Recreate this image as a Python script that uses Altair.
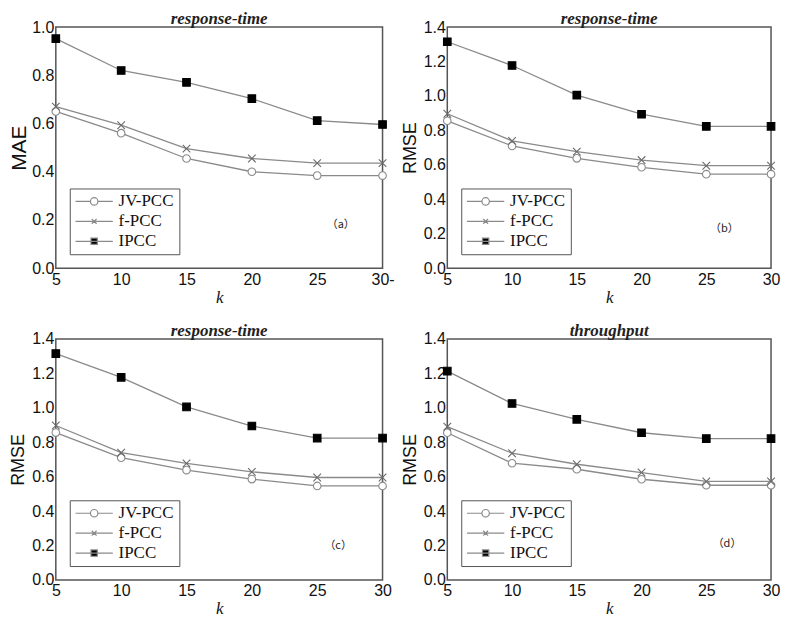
import altair as alt
import pandas as pd

k_values = [5, 10, 15, 20, 25, 30]
series_names = ["JV-PCC", "f-PCC", "IPCC"]

a_jv = [0.65, 0.56, 0.455, 0.40, 0.384, 0.384]
a_f = [0.67, 0.593, 0.496, 0.455, 0.436, 0.436]
a_ip = [0.952, 0.82, 0.771, 0.703, 0.612, 0.596]

b_jv = [0.856, 0.71, 0.638, 0.586, 0.546, 0.546]
b_f = [0.897, 0.739, 0.677, 0.628, 0.595, 0.595]
b_ip = [1.315, 1.177, 1.005, 0.894, 0.824, 0.824]

c_jv = [0.856, 0.71, 0.638, 0.586, 0.546, 0.546]
c_f = [0.897, 0.739, 0.677, 0.628, 0.595, 0.595]
c_ip = [1.315, 1.177, 1.005, 0.894, 0.824, 0.824]

d_jv = [0.855, 0.678, 0.643, 0.585, 0.55, 0.55]
d_f = [0.89, 0.736, 0.672, 0.624, 0.572, 0.572]
d_ip = [1.213, 1.025, 0.933, 0.855, 0.821, 0.821]

panel_titles = ["response-time", "response-time", "response-time", "throughput"]
y_titles = ["MAE", "RMSE", "RMSE", "RMSE"]
y_max = [1.0, 1.4, 1.4, 1.4]
tags = ["（a）", "（b）", "（c）", "（d）"]
tag_k = [26.8, 26.4, 26.6, 26.6]
tag_y = [0.18, 0.225, 0.2, 0.21]

GRAY = "#8a8a8a"
widths = [328, 325, 328, 325]
H = 242

shape_range = ["circle", "M-1,-1L1,1M-1,1L1,-1", "square"]
fill_range = ["white", "transparent", "black"]
stroke_range = [GRAY, "#6a6a6a", "black"]

leg_jv = "M-1,0L-0.2,0M0.2,0L1,0M0.2,0A0.2,0.2 0 1,1 -0.2,0A0.2,0.2 0 1,1 0.2,0Z"
leg_f = "M-1,0L1,0M-0.13,-0.13L0.13,0.13M-0.13,0.13L0.13,-0.13"
leg_ip = "M-1,0L1,0M-0.17,-0.17L0.17,-0.17L0.17,0.17L-0.17,0.17Z"
leg_shapes = [leg_jv, leg_f, leg_ip]
leg_fills = ["white", "transparent", "black"]
leg_strokes = [GRAY, GRAY, GRAY]


def make_panel(i, jv, f, ip):
    rows = []
    for name, vals in zip(series_names, [jv, f, ip]):
        for k, v in zip(k_values, vals):
            rows.append({"k": k, "value": v, "series": name})
    df = pd.DataFrame(rows)
    ymax = y_max[i]
    yvals = [round(0.2 * j, 1) for j in range(int(round(ymax / 0.2)) + 1)]

    x_axis = alt.Axis(
        values=k_values, title="k", titleFont="Liberation Serif", titleFontStyle="italic",
        titleFontSize=17, titleFontWeight="normal", titleColor="#111", titlePadding=2,
        labelFont="Liberation Sans", labelFontSize=16, labelColor="#111", labelPadding=3,
        ticks=False, domain=False, grid=False,
        labelExpr="datum.value == 30 ? '30-' : datum.label" if i == 0 else "datum.label",
        labelFlush=False,
    )
    y_axis = alt.Axis(
        values=yvals, format=".1f", title=y_titles[i], titleFont="Liberation Sans",
        titleFontSize=21 if i == 0 else 18, titleFontWeight="normal", titleColor="#111",
        titlePadding=2 if i == 0 else 4, labelFont="Liberation Sans", labelFontSize=16,
        labelColor="#111", labelPadding=2, ticks=False, domain=False, grid=False,
        labelFlush=False,
    )
    x = alt.X("k:Q", scale=alt.Scale(domain=[5, 30], nice=False, zero=False), axis=x_axis)
    y = alt.Y("value:Q", scale=alt.Scale(domain=[0, ymax], nice=False), axis=y_axis)

    lines = alt.Chart(df).mark_line(color=GRAY, strokeWidth=1.3).encode(
        x=x, y=y, detail="series:N"
    )
    points = alt.Chart(df).mark_point(size=58, opacity=1, strokeWidth=1.1).encode(
        x=x, y=y,
        shape=alt.Shape("series:N", scale=alt.Scale(domain=series_names, range=shape_range), legend=None),
        fill=alt.Fill("series:N", scale=alt.Scale(domain=series_names, range=fill_range), legend=None),
        stroke=alt.Stroke("series:N", scale=alt.Scale(domain=series_names, range=stroke_range), legend=None),
    )
    legend = alt.Legend(
        title=None, orient="bottom-left", offset=14, padding=5,
        strokeColor="#555", fillColor="white",
        labelFont="Liberation Serif", labelFontSize=17, labelColor="#111", labelOffset=5,
        symbolSize=1400, clipHeight=16, rowPadding=3, symbolStrokeWidth=1.2,
        symbolOpacity=1,
    )
    leg_layer = alt.Chart(df).transform_filter("datum.k > 1000").mark_point(
        opacity=1, strokeWidth=1.2
    ).encode(
        x=x, y=y,
        shape=alt.Shape("series:N", scale=alt.Scale(domain=series_names, range=leg_shapes), legend=legend),
        fill=alt.Fill("series:N", scale=alt.Scale(domain=series_names, range=leg_fills), legend=legend),
        stroke=alt.Stroke("series:N", scale=alt.Scale(domain=series_names, range=leg_strokes), legend=legend),
    )
    tag_df = pd.DataFrame({"k": [tag_k[i]], "value": [tag_y[i] * 1.0], "tag": [tags[i]]})
    tag = alt.Chart(tag_df).mark_text(
        font="Noto Sans CJK SC", fontSize=11, color="#222"
    ).encode(x=x, y=y, text="tag:N")

    return alt.layer(lines, points, leg_layer, tag).resolve_scale(
        shape="independent", fill="independent", stroke="independent"
    ).properties(
        width=widths[i], height=H,
        title=alt.TitleParams(
            panel_titles[i], font="Liberation Serif", fontStyle="italic", fontWeight="bold",
            fontSize=17, color="#222", anchor="middle", offset=-9,
        ),
    )


pa = make_panel(0, a_jv, a_f, a_ip)
pb = make_panel(1, b_jv, b_f, b_ip)
pc = make_panel(2, c_jv, c_f, c_ip)
pd_ = make_panel(3, d_jv, d_f, d_ip)

chart = alt.vconcat(
    alt.hconcat(pa, pb, spacing=5),
    alt.hconcat(pc, pd_, spacing=8),
    spacing=15,
).properties(padding=0).configure_view(stroke="#555", strokeWidth=1.5)

chart.save("out.html", embed_options={"renderer": "svg", "actions": False})
